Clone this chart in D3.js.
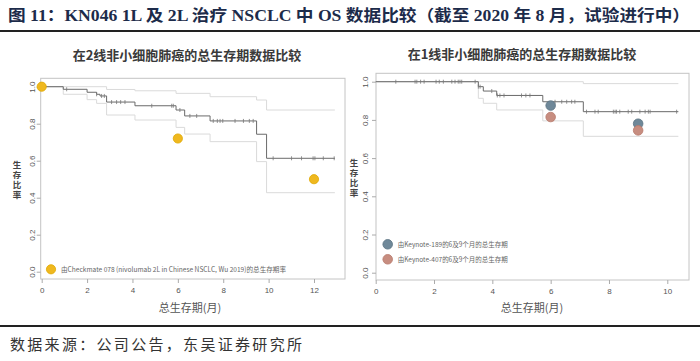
<!DOCTYPE html>
<html><head><meta charset="utf-8">
<script src="https://cdn.jsdelivr.net/npm/d3@7"></script>
<style>
html,body{margin:0;padding:0;background:#fff;}
svg{display:block;}
</style></head>
<body>
<svg id="c" width="700" height="361"></svg>
<script>
// ---------- text ----------
const headerTitle = "图 11：KN046 1L 及 2L 治疗 NSCLC 中 OS 数据比较（截至 2020 年 8 月，试验进行中）";
const footerText = "数据来源：公司公告，东吴证券研究所";
const leftTitle = "在2线非小细胞肺癌的总生存期数据比较";
const rightTitle = "在1线非小细胞肺癌的总生存期数据比较";
const xAxisTitle = "总生存期(月)";
const yAxisTitle = "生存比率";

// ---------- ticks ----------
const yTicks = [0, 0.2, 0.4, 0.6, 0.8, 1.0];
const leftXTicks = [0, 2, 4, 6, 8, 10, 12];
const rightXTicks = [0, 2, 4, 6, 8, 10];

// ---------- left panel (2L) ----------
const leftMainTime = [0, 0.95, 2.0, 2.42, 2.57, 2.86, 4.11, 5.92, 6.3, 7.42, 9.47, 9.91, 12.92];
const leftMainSurv = [1.0, 0.986, 0.970, 0.959, 0.950, 0.917, 0.897, 0.874, 0.842, 0.815, 0.743, 0.613, 0.613];
const leftUpperTime = [0, 2.86, 4.11, 5.92, 7.42, 9.47, 9.91, 12.92];
const leftUpperSurv = [1.0, 0.985, 0.978, 0.964, 0.946, 0.928, 0.874, 0.874];
const leftLowerTime = [0, 0.95, 2.0, 2.42, 2.86, 4.11, 5.92, 6.3, 7.42, 9.47, 9.91, 12.92];
const leftLowerSurv = [1.0, 0.959, 0.93, 0.91, 0.847, 0.82, 0.78, 0.744, 0.703, 0.595, 0.427, 0.427];
const leftCensor = [1.10, 2.42, 2.64, 2.76, 3.08, 3.30, 3.48, 3.67, 4.85, 5.73, 5.80, 6.09, 6.53, 6.83,
  7.56, 7.74, 7.86, 7.98, 8.52, 8.89, 9.15, 9.32, 10.20, 11.01, 11.45, 11.96, 12.04, 12.41, 12.89];
const checkmateTime = [0, 6, 12];
const checkmateSurv = [1.0, 0.72, 0.50];
const checkmateLabel = "由Checkmate 078 (nivolumab 2L in Chinese NSCLC, Wu 2019)的总生存期率";

// ---------- right panel (1L) ----------
const rightMainTime = [0, 3.52, 3.69, 4.15, 5.73, 7.12, 10.38];
const rightMainSurv = [1.0, 0.974, 0.951, 0.928, 0.895, 0.843, 0.843];
const rightUpperTime = [0, 7.12, 10.38];
const rightUpperSurv = [1.0, 0.99, 0.99];
const rightLowerTime = [0, 3.52, 3.69, 4.15, 5.73, 7.12, 10.38];
const rightLowerSurv = [1.0, 0.913, 0.887, 0.852, 0.795, 0.714, 0.714];
const rightCensor = [0.69, 1.35, 1.41, 1.54, 1.66, 2.07, 2.18, 2.32, 2.61, 2.72, 2.83, 2.89, 2.95, 3.41, 3.52,
  3.58, 3.98, 4.17, 4.26, 4.40, 5.0, 5.15, 5.29, 6.15, 6.38, 6.55, 6.72, 6.83,
  7.23, 7.52, 7.63, 8.15, 8.21, 8.26, 8.37, 8.66, 8.78, 9.06, 9.24, 9.35, 9.41, 10.32];
const keynote189Time = [6, 9];
const keynote189Surv = [0.875, 0.78];
const keynote407Time = [6, 9];
const keynote407Surv = [0.815, 0.745];
const keynote189Label = "由Keynote-189的6及9个月的总生存期";
const keynote407Label = "由Keynote-407的6及9个月的总生存期";

// ---------- drawing ----------
const svg = d3.select("#c");
const CJK = "'Noto Sans CJK SC','Noto Sans',sans-serif";
const SERIF = "'Liberation Serif','Noto Sans CJK SC',serif";

// header
svg.append("text").attr("x", 8).attr("y", 21)
  .attr("font-family", SERIF).attr("font-weight", "bold").attr("font-size", 16)
  .attr("fill", "#1c2b4a").attr("textLength", 682).attr("lengthAdjust", "spacingAndGlyphs")
  .text(headerTitle);
svg.append("line").attr("x1", 0).attr("x2", 700).attr("y1", 31).attr("y2", 31)
  .attr("stroke", "#222").attr("stroke-width", 2);
svg.append("line").attr("x1", 0).attr("x2", 700).attr("y1", 326).attr("y2", 326)
  .attr("stroke", "#222").attr("stroke-width", 2);
svg.append("text").attr("x", 10).attr("y", 350)
  .attr("font-family", CJK).attr("font-size", 15).attr("fill", "#333")
  .attr("textLength", 292).attr("lengthAdjust", "spacing")
  .text(footerText);

function zip(t, s) { return t.map((d, i) => [d, s[i]]); }
function stepVal(times, surv, t) {
  let v = surv[0];
  for (let i = 0; i < times.length; i++) if (times[i] <= t) v = surv[i];
  return v;
}

function panel(cfg) {
  const g = svg.append("g");
  const x = d3.scaleLinear().domain(cfg.xDomain).range(cfg.xRange);
  const y = d3.scaleLinear().domain([0, 1]).range(cfg.yRange);
  const line = d3.line().x(d => x(d[0])).y(d => y(d[1])).curve(d3.curveStepAfter);

  // title
  g.append("text").attr("x", cfg.titleX).attr("y", cfg.titleY).attr("text-anchor", "middle")
    .attr("font-family", CJK).attr("font-weight", "bold").attr("font-size", 13).attr("fill", "#3a3a3a")
    .text(cfg.title);

  // box
  g.append("rect").attr("x", cfg.box[0]).attr("y", cfg.box[1])
    .attr("width", cfg.box[2] - cfg.box[0]).attr("height", cfg.box[3] - cfg.box[1])
    .attr("fill", "none").attr("stroke", "#c4c4c4").attr("stroke-width", 1);

  // x axis
  const xa = g.append("g").attr("transform", `translate(0,${cfg.box[3]})`)
    .call(d3.axisBottom(x).tickValues(cfg.xTicks).tickSize(4).tickPadding(4).tickFormat(d3.format("d")));
  xa.select(".domain").remove();
  xa.selectAll("line").attr("stroke", "#aaa");
  xa.selectAll("text").attr("font-family", "'Liberation Sans',Arial,sans-serif").attr("font-size", 8).attr("fill", "#555");

  // y axis
  const ya = g.append("g").attr("transform", `translate(${cfg.box[0]},0)`)
    .call(d3.axisLeft(y).tickValues(yTicks).tickSize(4).tickFormat(d3.format(".1f")));
  ya.select(".domain").remove();
  ya.selectAll("line").attr("stroke", "#aaa");
  ya.selectAll("text").attr("transform", "rotate(-90)").attr("x", 0).attr("y", cfg.yLabOff)
    .attr("dy", 0).attr("text-anchor", "middle")
    .attr("font-family", "'Liberation Sans',Arial,sans-serif").attr("font-size", 8).attr("fill", "#555");

  // y title (vertical stacked characters)
  g.append("text").attr("x", cfg.yTitleX).attr("y", cfg.yTitleY)
    .attr("writing-mode", "vertical-rl").attr("letter-spacing", 1.2)
    .attr("font-family", CJK).attr("font-weight", "bold").attr("font-size", 8.5).attr("fill", "#444")
    .text(yAxisTitle);

  // x title
  g.append("text").attr("x", cfg.xTitleX).attr("y", 312).attr("text-anchor", "middle")
    .attr("font-family", CJK).attr("font-size", 11).attr("fill", "#555").text(xAxisTitle);

  // CI lines
  g.append("path").attr("d", line(zip(cfg.upT, cfg.upS))).attr("fill", "none")
    .attr("stroke", "#dadada").attr("stroke-width", 1);
  g.append("path").attr("d", line(zip(cfg.loT, cfg.loS))).attr("fill", "none")
    .attr("stroke", "#dadada").attr("stroke-width", 1);
  // main
  g.append("path").attr("d", line(zip(cfg.mT, cfg.mS))).attr("fill", "none")
    .attr("stroke", "#6a6a6a").attr("stroke-width", 1);
  // censor ticks
  g.append("g").selectAll("line").data(cfg.censor).join("line")
    .attr("x1", d => x(d)).attr("x2", d => x(d))
    .attr("y1", d => y(stepVal(cfg.mT, cfg.mS, d)) - 2)
    .attr("y2", d => y(stepVal(cfg.mT, cfg.mS, d)) + 2)
    .attr("stroke", "#777").attr("stroke-width", 0.8);

  // reference dots
  cfg.dots.forEach(ds => {
    g.append("g").selectAll("circle").data(zip(ds.t, ds.s)).join("circle")
      .attr("cx", d => x(d[0])).attr("cy", d => y(d[1])).attr("r", ds.r)
      .attr("fill", ds.color).attr("stroke", ds.stroke).attr("stroke-width", 0.8);
    g.append("circle").attr("cx", ds.legX).attr("cy", ds.legY).attr("r", ds.r)
      .attr("fill", ds.color).attr("stroke", ds.stroke).attr("stroke-width", 0.8);
    g.append("text").attr("x", ds.legX + 10).attr("y", ds.legY + 2.5)
      .attr("font-family", CJK).attr("font-size", 7).attr("fill", "#666")
      .attr("textLength", ds.legW).attr("lengthAdjust", "spacingAndGlyphs")
      .text(ds.label);
  });
}

panel({
  title: leftTitle, titleX: 187, titleY: 60,
  xDomain: [0, 12], xRange: [41.7, 314], yRange: [271.7, 86.7],
  box: [40.7, 78.3, 345, 279], xTicks: leftXTicks, yLabOff: -6,
  yTitleX: 17, yTitleY: 161, xTitleX: 190,
  mT: leftMainTime, mS: leftMainSurv,
  upT: leftUpperTime, upS: leftUpperSurv, loT: leftLowerTime, loS: leftLowerSurv,
  censor: leftCensor,
  dots: [{ t: checkmateTime, s: checkmateSurv, color: "#efb81f", stroke: "#e0a800", r: 4.6,
    legX: 51, legY: 269.3, legW: 225, label: checkmateLabel }]
});

panel({
  title: rightTitle, titleX: 522, titleY: 59,
  xDomain: [0, 10], xRange: [375.7, 667.3], yRange: [272.7, 81.7],
  box: [376, 73.3, 689, 280], xTicks: rightXTicks, yLabOff: -8,
  yTitleX: 354, yTitleY: 159, xTitleX: 532,
  mT: rightMainTime, mS: rightMainSurv,
  upT: rightUpperTime, upS: rightUpperSurv, loT: rightLowerTime, loS: rightLowerSurv,
  censor: rightCensor,
  dots: [
    { t: keynote189Time, s: keynote189Surv, color: "#6f8899", stroke: "#5a7282", r: 4.8,
      legX: 387.7, legY: 244.3, legW: 110, label: keynote189Label },
    { t: keynote407Time, s: keynote407Surv, color: "#c78d80", stroke: "#b87a6c", r: 4.8,
      legX: 387.7, legY: 259.3, legW: 110, label: keynote407Label }
  ]
});
</script>
</body></html>
